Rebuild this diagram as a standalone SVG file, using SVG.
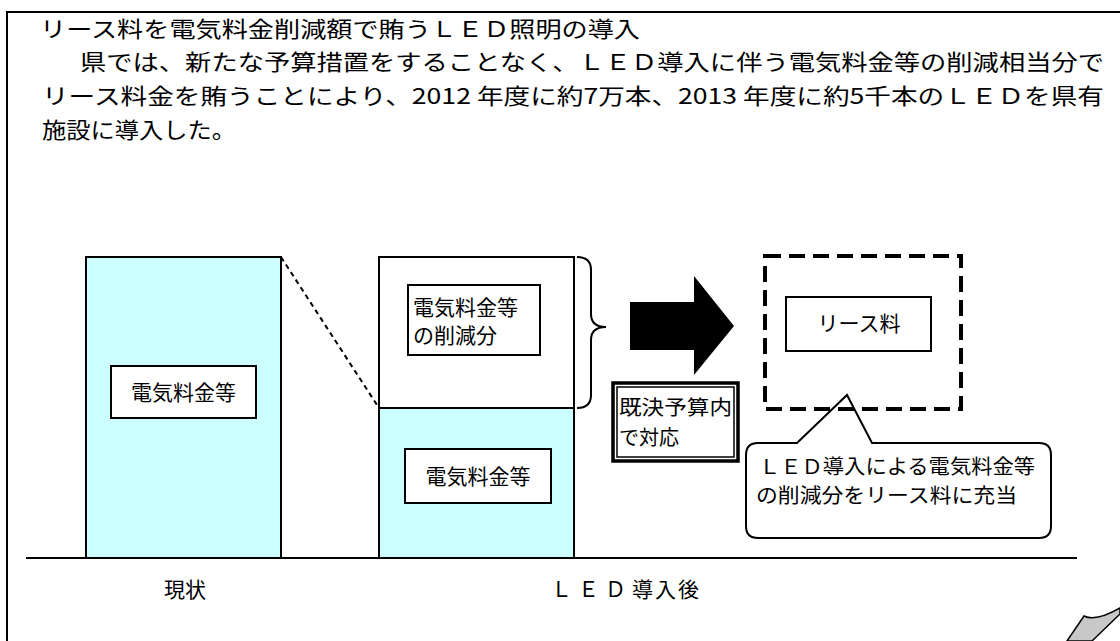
<svg xmlns="http://www.w3.org/2000/svg" width="1120" height="641" viewBox="0 0 1120 641">
<style>
text{font-family:"Noto Sans CJK JP","Noto Sans",sans-serif;fill:#000}
.t{font-size:22px}
.l{font-size:21px}
.c{font-size:20px}
.box{fill:#fff;stroke:#000;stroke-width:2}
.bar{fill:#CCFFFF;stroke:#000;stroke-width:2}
</style>
<rect width="1120" height="641" fill="#fff"/>
<path d="M7,641 V12 H1120" fill="none" stroke="#000" stroke-width="2"/>
<g id="title">
<text class="t" x="40" y="37" textLength="600" lengthAdjust="spacingAndGlyphs">リース料を電気料金削減額で賄うＬＥＤ照明の導入</text>
<text class="t" x="80" y="70" textLength="1024" lengthAdjust="spacingAndGlyphs">県では、新たな予算措置をすることなく、ＬＥＤ導入に伴う電気料金等の削減相当分で</text>
<text class="t" x="42" y="104" textLength="1062" lengthAdjust="spacingAndGlyphs">リース料金を賄うことにより、2012 年度に約7万本、2013 年度に約5千本のＬＥＤを県有</text>
<text class="t" x="42" y="138" textLength="194" lengthAdjust="spacingAndGlyphs">施設に導入した。</text>
</g>
<g id="current">
<rect class="bar" x="86" y="257" width="195" height="301"/>
<rect class="box" x="111" y="366" width="145" height="52"/>
<text class="l" x="183.5" y="400" text-anchor="middle">電気料金等</text>
</g>
<g id="after">
<rect x="379" y="257" width="195" height="151" fill="#fff" stroke="#000" stroke-width="2"/>
<rect class="bar" x="379" y="408" width="195" height="150"/>
</g>
<g id="reduction">
<rect class="box" x="408" y="285" width="132" height="70"/>
<text class="l" x="413" y="315">電気料金等</text>
<text class="l" x="413" y="343">の削減分</text>
</g>
<g id="remaining">
<rect class="box" x="405" y="449" width="146" height="54"/>
<text class="l" x="478" y="484" text-anchor="middle">電気料金等</text>
</g>
<g id="budget">
<rect x="613" y="383" width="125" height="78" fill="#fff" stroke="#000" stroke-width="3.5"/>
<rect x="617" y="387" width="117" height="70" fill="none" stroke="#000" stroke-width="1.5"/>
<text class="c" x="619" y="415" textLength="113" lengthAdjust="spacingAndGlyphs">既決予算内</text>
<text class="c" x="619" y="445">で対応</text>
</g>
<g id="callout">
<path d="M758,443 H797 L847,395 L872,443 H1039 Q1051,443 1051,455 V526 Q1051,538 1039,538 H758 Q746,538 746,526 V455 Q746,443 758,443 Z" fill="#fff" stroke="#000" stroke-width="2"/>
<text class="c" x="759" y="474" textLength="276" lengthAdjust="spacingAndGlyphs">ＬＥＤ導入による電気料金等</text>
<text class="c" x="756" y="503" textLength="261" lengthAdjust="spacingAndGlyphs">の削減分をリース料に充当</text>
</g>
<g id="lease">
<rect x="765" y="256" width="196" height="153" fill="none" stroke="#000" stroke-width="4" stroke-dasharray="16,8"/>
<rect class="box" x="786" y="297" width="145" height="54"/>
<text class="l" x="859" y="331" text-anchor="middle">リース料</text>
</g>
<g id="connectors">
<line x1="281" y1="257" x2="379" y2="408" stroke="#000" stroke-width="2" stroke-dasharray="5,4"/>
<path d="M577,257 Q591,257 591,270 V314 Q591,327 606,327 Q591,327 591,340 V395 Q591,408 577,408" fill="none" stroke="#000" stroke-width="2"/>
<polygon points="630,302 694,302 694,276 734,326 694,375 694,350 630,350" fill="#000"/>
<line x1="26" y1="558" x2="1077" y2="558" stroke="#000" stroke-width="2"/>
</g>
<g id="labels">
<text class="l" x="185" y="597" text-anchor="middle">現状</text>
<text class="l" x="551" y="597"><tspan letter-spacing="6">ＬＥＤ</tspan><tspan letter-spacing="2">導入後</tspan></text>
</g>
<path id="curl" d="M1067,641 L1084,616 Q1096,622 1120,608 L1120,614 L1092,641 Z" fill="#C8C8C8" stroke="#000" stroke-width="1.5"/>
</svg>
